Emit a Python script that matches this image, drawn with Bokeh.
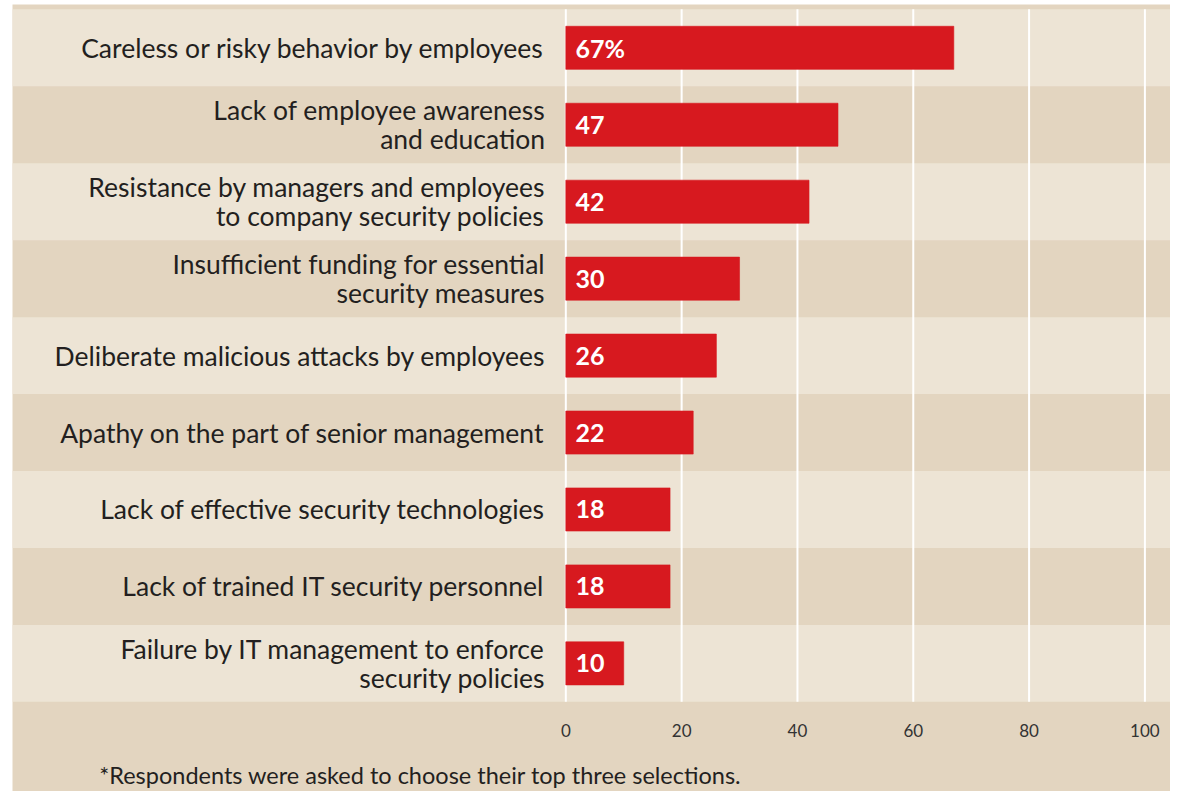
from bokeh.plotting import figure
from bokeh.models import Range1d, ColumnDataSource
from bokeh.core.properties import value
from bokeh.embed import file_html
from bokeh.resources import INLINE

categories = [
    "Careless or risky behavior by employees",
    "Lack of employee awareness\nand education",
    "Resistance by managers and employees\nto company security policies",
    "Insufficient funding for essential\nsecurity measures",
    "Deliberate malicious attacks by employees",
    "Apathy on the part of senior management",
    "Lack of effective security technologies",
    "Lack of trained IT security personnel",
    "Failure by IT management to enforce\nsecurity policies",
]
values = [67, 47, 42, 30, 26, 22, 18, 18, 10]
value_labels = ["67%", "47", "42", "30", "26", "22", "18", "18", "10"]
tick_values = [0, 20, 40, 60, 80, 100]
tick_labels = ["0", "20", "40", "60", "80", "100"]
footnote = "*Respondents were asked to choose their top three selections."

LIGHT = "#EDE4D5"
DARK = "#E3D5C0"
RED = "#D7191F"
TEXT = "#231F20"
FONT = "Lato"

n = len(categories)
rows = list(range(n))

p = figure(width=1170, height=791, output_backend="svg", toolbar_location=None,
           x_range=Range1d(-95.55, 104.42), y_range=Range1d(9.665, -0.563),
           min_border_left=12, min_border_right=0, min_border_top=4, min_border_bottom=0)
p.axis.visible = False
p.grid.visible = False
p.outline_line_color = None
p.background_fill_color = DARK
p.border_fill_color = "white"

# alternating row bands
band_rows = [r for r in rows if r % 2 == 0]
p.hbar(y=band_rows, left=-200, right=200, height=1.0, fill_color=LIGHT, line_color=None)

# gridlines
p.segment(x0=tick_values, x1=tick_values, y0=[-0.5] * len(tick_values), y1=[n - 0.5] * len(tick_values),
          line_color="white", line_width=2)

src = ColumnDataSource(dict(y=rows, v=values, lab=value_labels, cat=categories))
p.hbar(y="y", left=0, right="v", height=0.56, source=src, fill_color=RED, line_color=RED, line_alpha=0.6)

p.text(x=1.69, y="y", text="lab", source=src, text_color="white", text_font=value(FONT),
       text_font_style="bold", text_font_size="25px", text_baseline="middle", text_align="left")

p.text(x=-3.57, y="y", text="cat", source=src, text_color=TEXT, text_font=value(FONT),
       text_font_size="26.5px", text_baseline="middle", text_align="right", text_line_height=0.92)

# tick labels
p.text(x=tick_values, y=[8.876] * len(tick_values), text=tick_labels, text_color="#333333",
       text_font=value(FONT), text_font_size="17px", text_baseline="middle", text_align="center")

# footnote
p.text(x=[-80.57], y=[9.449], text=[footnote], text_color=TEXT, text_font=value(FONT),
       text_font_size="23.5px", text_baseline="middle", text_align="left")

open("out.html", "w").write(file_html(p, INLINE))
